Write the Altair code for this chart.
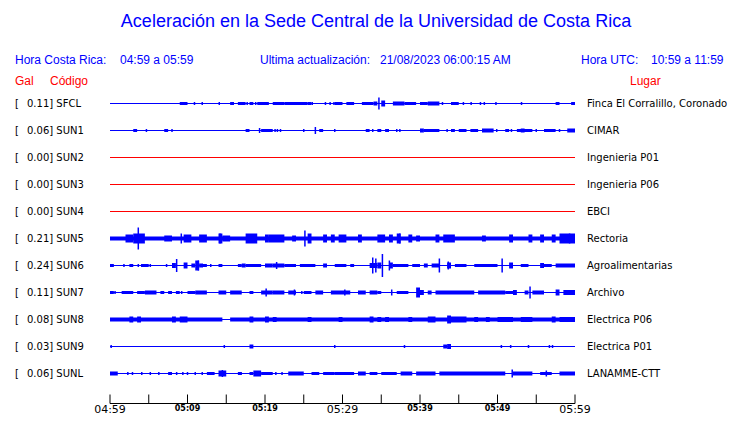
import altair as alt
import pandas as pd

# ---------------- data ----------------
codes = ["SFCL", "SUN1", "SUN2", "SUN3", "SUN4", "SUN5", "SUN6", "SUN7", "SUN8", "SUN9", "SUNL"]
gal = [0.11, 0.06, 0.00, 0.00, 0.00, 0.21, 0.24, 0.11, 0.08, 0.03, 0.06]
places = ["Finca El Corralillo, Coronado", "CIMAR", "Ingenieria P01", "Ingenieria P06", "EBCI",
          "Rectoria", "Agroalimentarias", "Archivo", "Electrica P06", "Electrica P01", "LANAMME-CTT"]
trace_colors = ["#0000ff", "#0000ff", "#ff0000", "#ff0000", "#ff0000", "#0000ff",
                "#0000ff", "#0000ff", "#0000ff", "#0000ff", "#0000ff"]

# bursts: (start minute, end minute, total height in px) ; minutes after 04:59
bursts = {
    "SFCL": [(9, 10, 3), (15.5, 16, 3), (16.5, 17.5, 3), (18, 18.5, 3), (19, 20.5, 3), (21, 22.5, 3),
             (22.5, 25.5, 3), (25.5, 26, 3), (29, 30, 3), (30.5, 31.5, 3), (32.5, 34, 3), (34, 34.5, 4),
             (35, 35.5, 6), (36.5, 38, 4), (38, 39.5, 3), (40, 41, 3), (41, 42.5, 4), (44, 45, 3),
             (57.5, 58, 3), (59.5, 60, 3)],
    "SUN1": [(3, 3.5, 3), (7, 7.5, 3), (17.5, 18, 3), (19.5, 20, 3), (20, 21, 3), (27, 27.5, 3),
             (33, 33.5, 3), (34.5, 35, 3), (35.5, 36, 3), (40, 40.5, 4), (40.5, 42.5, 3), (44, 44.5, 3),
             (45, 46, 3), (46.5, 47.5, 3), (48, 49.5, 4), (51, 51.5, 3), (52.5, 54.5, 3), (53, 53.5, 4),
             (56, 57.5, 3), (59, 60, 4)],
    "SUN2": [],
    "SUN3": [],
    "SUN4": [],
    "SUN5": [(0, 60, 4), (2, 3, 8), (3, 4.5, 10), (7, 8, 6), (9.5, 10.5, 8), (11.5, 12.5, 8), (14, 14.5, 10),
             (14.5, 15.5, 6), (17.5, 19, 10), (20, 20.5, 8), (20.5, 22.5, 8), (23.5, 24, 6), (25.5, 26, 10),
             (27.5, 28, 8), (28.5, 29, 8), (29.5, 30.5, 8), (32, 32.5, 8), (34.5, 35.5, 8), (36, 36.5, 8),
             (37, 37.5, 10), (38.5, 39, 8), (39.5, 40, 6), (42, 42.5, 8), (43, 44.5, 8), (48, 48.5, 6),
             (51.5, 52, 8), (54, 54.5, 8), (55.5, 56, 8), (57, 57.5, 8), (58, 60, 10)],
    "SUN6": [(0, 0.5, 3), (2.5, 3, 3), (4, 5, 3), (8, 8.5, 5), (9.5, 10, 6), (10.5, 11, 4), (11, 11.5, 10),
             (11.5, 12, 4), (12, 12.5, 3), (14, 14.5, 3), (16.5, 17, 3), (17, 17.5, 4), (17.5, 19.5, 3),
             (20, 21, 4), (21, 22.5, 4), (22.5, 24, 3), (24.5, 26.5, 3), (27.5, 28, 4), (29, 30.5, 3),
             (31, 31.5, 3), (33.5, 34.5, 5), (34.5, 35, 6), (36, 36.5, 6), (36.5, 38.5, 3), (39, 40, 3),
             (40.5, 41, 4), (41.5, 42.5, 4), (43.5, 44, 6), (44.5, 46, 3), (47, 50, 3), (51.5, 52, 6),
             (53, 54, 3), (55.5, 56, 5), (56, 57, 3), (57.5, 60, 4)],
    "SUN7": [(0, 0.5, 3), (1.5, 3, 3), (3.5, 4.5, 3), (4.5, 6, 4), (6.5, 7, 3), (7.5, 8, 3), (8.5, 9, 3),
             (10, 11, 3), (11, 12.5, 4), (14, 15, 4), (15.5, 17, 4), (18, 18.5, 3), (19.5, 21, 4),
             (21, 22.5, 4), (23, 24, 4), (25, 26, 3), (26.5, 27.5, 4), (28.5, 31, 4), (32, 33, 4),
             (33.5, 34.5, 4), (34.5, 35, 3), (37, 38.5, 3), (39.5, 40, 10), (40, 40.5, 5), (41, 41.5, 4),
             (42, 47, 4), (47.5, 51, 4), (51, 52, 3), (52, 52.5, 5), (53.5, 54, 4), (54.5, 56, 4),
             (57.5, 58, 6), (58.5, 60, 5)],
    "SUN8": [(0, 14.5, 4), (15.5, 60, 4), (2.5, 3, 6), (3.5, 4, 6), (8, 8.5, 6), (9, 10, 6), (18, 18.5, 6),
             (20, 20.5, 6), (21, 21.5, 5), (25.5, 26, 5), (29.5, 30, 5), (33.5, 34, 6), (34.5, 35, 5),
             (35.5, 36, 5), (38.5, 39, 5), (41, 42, 6), (43.5, 44, 8), (44, 46, 6), (47, 47.5, 5),
             (48.5, 49, 5), (50, 52, 5), (53, 54.5, 5), (57, 57.5, 6), (58, 60, 5)],
    "SUN9": [(18, 18.5, 4), (43, 43.5, 4), (43.5, 44, 5)],
    "SUNL": [(0, 1, 4), (7.5, 8, 3), (12.5, 13.5, 3), (14, 15, 6), (16.5, 17, 3), (18, 18.5, 3),
             (18.5, 19.5, 6), (19.5, 21, 3), (23, 25, 4), (26, 27, 3), (27.5, 29, 3), (29, 31.5, 3),
             (32, 33, 4), (33.5, 34.5, 3), (35, 37, 3), (37.5, 39, 4), (39.5, 42, 4), (42.5, 51, 4),
             (52, 54.5, 4), (55.5, 57, 3), (58, 60, 4)],
}

# spikes: (minute, total height in px)
spikes = {
    "SFCL": [(10.9, 3), (11.9, 3), (14.1, 3), (17.7, 3), (18.8, 3), (26.1, 3), (27.8, 3), (28.4, 3),
             (28.9, 3), (34.7, 12), (42.9, 3), (45.6, 3), (46.6, 3), (47.8, 3), (48.3, 3), (49.8, 3), (53.1, 3)],
    "SUN1": [(3.35, 3), (4.7, 3), (8, 3), (19.3, 5), (21.3, 3), (21.6, 3), (22, 3), (25, 3), (26.5, 7),
             (29, 3), (33.9, 3), (37, 3), (37.4, 3), (43.5, 3), (49.9, 3), (51.8, 3), (55, 3), (58, 3)],
    "SUN2": [], "SUN3": [], "SUN4": [],
    "SUN5": [(3.65, 22), (9.2, 10), (14.2, 10), (25.15, 16), (37.4, 10), (59.3, 10)],
    "SUN6": [(1.8, 3), (3.65, 3), (5.2, 3), (7.3, 3), (8.6, 13), (11.4, 10), (12.2, 3), (13, 3), (21.5, 7),
             (33.9, 16), (34.3, 14), (35.15, 23), (36.05, 10), (42.5, 14), (43.65, 8), (50.6, 14)],
    "SUN7": [(0.65, 3), (9.25, 3), (20.15, 8), (23.8, 6), (24.75, 3), (30.3, 6), (36.35, 6), (54.2, 12)],
    "SUN8": [],
    "SUN9": [(0.15, 3), (14.75, 3), (29, 3), (38, 3), (50.5, 3), (51.7, 3), (54, 3), (56.7, 3), (57.1, 3)],
    "SUNL": [(2.3, 3), (2.9, 3), (4.1, 3), (5.2, 3), (6.3, 3), (8.6, 3), (9.4, 3), (10, 3), (11, 3),
             (11.9, 3), (14.5, 7), (16.9, 3), (21.4, 3), (22.2, 3), (51.9, 8), (56.3, 6)],
}

tick_minutes = list(range(0, 61, 5))
major_ticks = [0, 30, 60]
major_labels = ["04:59", "05:29", "05:59"]
minor_ticks = [10, 20, 40, 50]
minor_labels = ["05:09", "05:19", "05:39", "05:49"]

title_text = "Aceleración en la Sede Central de la Universidad de Costa Rica"

# ---------------- tables ----------------
PX_PER_ROW = 27.0
n = len(codes)
base_df = pd.DataFrame({"s": list(range(n)), "t0": 0, "t1": 60, "color": trace_colors,
                        "code": codes, "place": places,
                        "lab": [f"{g:.2f}] {c}" for g, c in zip(gal, codes)]})
rows = []
for i, c in enumerate(codes):
    for (a, b, h) in bursts[c]:
        rows.append({"s": i, "t0": a, "t1": b, "lo": i - h / 2 / PX_PER_ROW,
                     "hi": i + h / 2 / PX_PER_ROW, "color": trace_colors[i]})
burst_df = pd.DataFrame(rows)
rows = []
for i, c in enumerate(codes):
    for (t, h) in spikes[c]:
        rows.append({"s": i, "t": t, "lo": i - h / 2 / PX_PER_ROW,
                     "hi": i + h / 2 / PX_PER_ROW, "color": trace_colors[i]})
spike_df = pd.DataFrame(rows)

tick_df = pd.DataFrame({"t": tick_minutes})
major_df = pd.DataFrame({"t": major_ticks, "lab": major_labels})
minor_df = pd.DataFrame({"t": minor_ticks, "lab": minor_labels})

xs = alt.Scale(domain=[0, 60], range=[102, 567], nice=False, zero=False)
ys = alt.Scale(domain=[0, 10], range=[95.5, 365.5], nice=False, zero=False)

baseline = alt.Chart(base_df).mark_rule(strokeWidth=1).encode(
    x=alt.X("t0:Q", scale=xs, axis=None), x2="t1:Q",
    y=alt.Y("s:Q", scale=ys, axis=None),
    color=alt.Color("color:N", scale=None))

burst_layer = alt.Chart(burst_df).mark_rect().encode(
    x=alt.X("t0:Q", scale=xs, axis=None), x2="t1:Q",
    y=alt.Y("lo:Q", scale=ys, axis=None), y2="hi:Q",
    color=alt.Color("color:N", scale=None))

spike_layer = alt.Chart(spike_df).mark_rule(strokeWidth=1.5).encode(
    x=alt.X("t:Q", scale=xs, axis=None),
    y=alt.Y("lo:Q", scale=ys, axis=None), y2="hi:Q",
    color=alt.Color("color:N", scale=None))

FS = 10
left_bracket = alt.Chart(base_df).mark_text(text="[", align="left", baseline="middle",
                                            font="DejaVu Sans", fontSize=FS, color="black").encode(
    x=alt.value(7), y=alt.Y("s:Q", scale=ys, axis=None))
left_lab = alt.Chart(base_df).mark_text(align="left", baseline="middle",
                                        font="DejaVu Sans", fontSize=FS, color="black").encode(
    x=alt.value(19), y=alt.Y("s:Q", scale=ys, axis=None), text="lab:N")
right_lab = alt.Chart(base_df).mark_text(align="left", baseline="middle",
                                         font="DejaVu Sans", fontSize=FS, color="black").encode(
    x=alt.value(579), y=alt.Y("s:Q", scale=ys, axis=None), text="place:N")

AX_Y = 395.5
axis_line = alt.Chart(pd.DataFrame({"t0": [0], "t1": [60]})).mark_rule(color="black", strokeWidth=1).encode(
    x=alt.X("t0:Q", scale=xs, axis=None), x2="t1:Q", y=alt.value(AX_Y))
ticks = alt.Chart(tick_df).mark_rule(color="black", strokeWidth=1).encode(
    x=alt.X("t:Q", scale=xs, axis=None), y=alt.value(AX_Y - 9), y2=alt.value(AX_Y))
major_text = alt.Chart(major_df).mark_text(baseline="bottom", align="center", font="DejaVu Sans",
                                           fontSize=11, color="black").encode(
    x=alt.X("t:Q", scale=xs, axis=None), y=alt.value(406.5), text="lab:N")
minor_text = alt.Chart(minor_df).mark_text(baseline="middle", align="center", font="DejaVu Sans",
                                           fontSize=8, fontWeight="bold", color="black").encode(
    x=alt.X("t:Q", scale=xs, axis=None), y=alt.value(400.5), text="lab:N")

one = pd.DataFrame({"a": [0]})


def txt(text, x, y, size, color, align="left", font="Liberation Sans"):
    return alt.Chart(one).mark_text(text=text, align=align, baseline="middle", font=font,
                                    fontSize=size, color=color).encode(x=alt.value(x), y=alt.value(y))


BLUE = "#0000ff"
RED = "#ff0000"
texts = [
    txt(title_text, 368, 14, 18, BLUE, align="center"),
    txt("Hora Costa Rica:", 7, 52, 12, BLUE),
    txt("04:59 a 05:59", 112, 52, 12, BLUE),
    txt("Ultima actualización:", 252, 52, 12, BLUE),
    txt("21/08/2023 06:00:15 AM", 372, 52, 12, BLUE),
    txt("Hora UTC:", 573, 52, 12, BLUE),
    txt("10:59 a 11:59", 643, 52, 12, BLUE),
    txt("Gal", 7, 73, 12, RED),
    txt("Código", 42, 73, 12, RED),
    txt("Lugar", 622, 73, 12, RED),
]

chart = alt.layer(baseline, burst_layer, spike_layer, left_bracket, left_lab, right_lab,
                  axis_line, ticks, major_text, minor_text, *texts).properties(
    width=724, height=407, padding=0, autosize="none"
).configure_view(stroke=None)

chart.save("out.html", embed_options={"renderer": "svg", "actions": False})
